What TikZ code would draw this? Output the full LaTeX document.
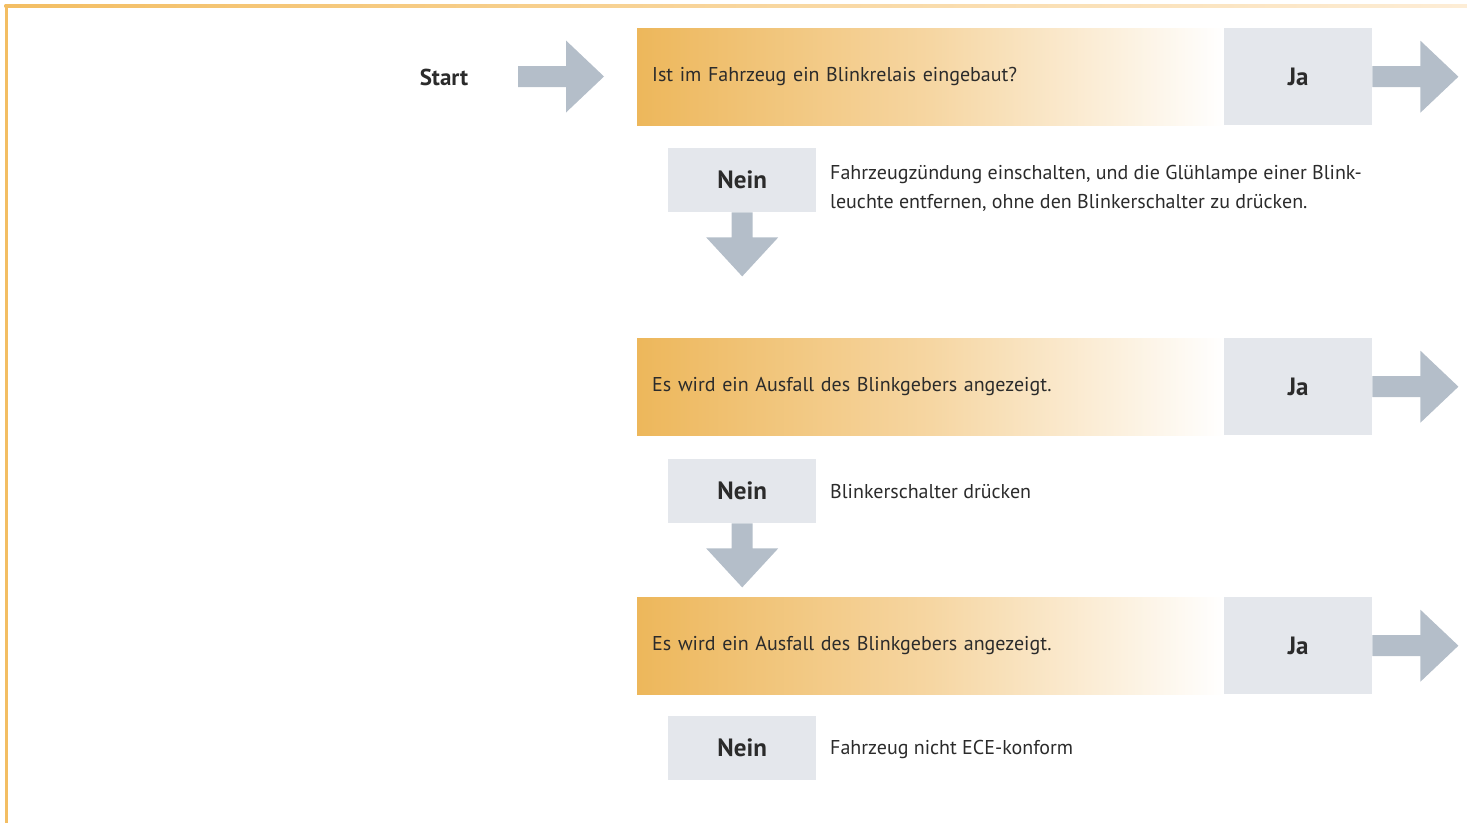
\documentclass[tikz,border=0pt]{standalone}
\usepackage{fontspec}
\setmainfont{PT Sans}
\usetikzlibrary{calc}
\definecolor{orng}{HTML}{EDB75B}
\definecolor{orngmid}{HTML}{F6D6A2}
\definecolor{frame}{HTML}{F3BE63}
\definecolor{framelight}{HTML}{FDEDD6}
\definecolor{grey}{HTML}{E4E7EC}
\definecolor{arrowcol}{HTML}{B4BEC9}
\definecolor{txt}{HTML}{2B2B2B}
\tikzset{
  qbox/.style={draw=none, anchor=north west, minimum width=587pt, minimum height=97pt,
    left color=orng, right color=white, middle color=orngmid, inner sep=0pt,
    text width=557pt, align=left, font=\fontsize{20}{24}\selectfont, text=txt},
  jabox/.style={fill=grey, anchor=north west, minimum width=148pt, minimum height=97pt,
    inner sep=0pt, font=\fontsize{25}{29}\selectfont\bfseries, text=txt},
  neinbox/.style={fill=grey, anchor=north west, minimum width=148pt, minimum height=64pt,
    inner sep=0pt, font=\fontsize{25}{29}\selectfont\bfseries, text=txt},
  desc/.style={anchor=west, inner sep=0pt, align=left, font=\fontsize{20}{29}\selectfont, text=txt},
  blockarrow/.style={fill=arrowcol, draw=none}
}
\newcommand\rblock[1]{\fill[blockarrow] ($(#1)+(0,-10.5)$) -- ++(48,0) -- ++(0,-25.5) -- ++(38,36) -- ++(-38,36) -- ++(0,-25.5) -- ++(-48,0) -- cycle;}
\newcommand\dblock[1]{\fill[blockarrow] ($(#1)+(-10.5,0)$) -- ++(0,25) -- ++(-25.5,0) -- ++(36,39) -- ++(36,-39) -- ++(-25.5,0) -- ++(0,-25) -- cycle;}
\begin{document}
\begin{tikzpicture}[x=1pt,y=-1pt]
\useasboundingbox (0,0) rectangle (1467,823);
% frame
\shade[left color=frame, right color=framelight] (4.5,4.5) rectangle (1467,7.5);
\fill[frame] (4.5,4.5) rectangle (7.5,823);
% start
\node[font=\fontsize{23}{27}\selectfont\bfseries, text=txt] (start) at (444,77) {Start};
\coordinate (s0) at (518,76.5);
\rblock{s0}
% row 1
\node[qbox] (q1) at (637,28) {Ist im Fahrzeug ein Blinkrelais eingebaut?};
\node[jabox] (j1) at (1224,28) {Ja};
\rblock{j1.east}
\node[neinbox] (n1) at (668,148) {Nein};
\dblock{n1.south}
\node[desc] (d1) at (830,188) {Fahrzeugzündung einschalten, und die Glühlampe einer Blink-\\leuchte entfernen, ohne den Blinkerschalter zu drücken.};
% row 2
\node[qbox] (q2) at (637,338) {Es wird ein Ausfall des Blinkgebers angezeigt.};
\node[jabox] (j2) at (1224,338) {Ja};
\rblock{j2.east}
\node[neinbox] (n2) at (668,459) {Nein};
\dblock{n2.south}
\node[desc] (d2) at (830,492) {Blinkerschalter drücken};
% row 3
\node[qbox] (q3) at (637,597) {Es wird ein Ausfall des Blinkgebers angezeigt.};
\node[jabox] (j3) at (1224,597) {Ja};
\rblock{j3.east}
\node[neinbox] (n3) at (668,716) {Nein};
\node[desc] (d3) at (830,749) {Fahrzeug nicht ECE-konform};
\end{tikzpicture}
\end{document}
